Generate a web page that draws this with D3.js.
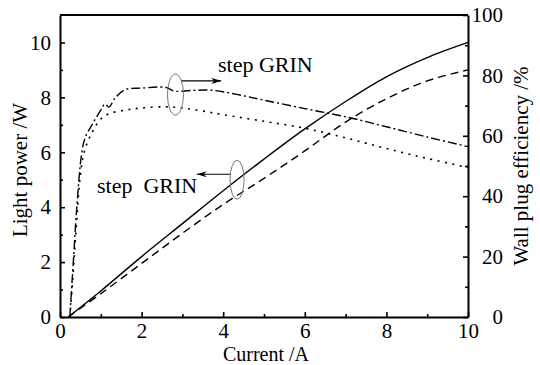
<!DOCTYPE html>
<html><head><meta charset="utf-8">
<script src="https://cdn.jsdelivr.net/npm/d3@7"></script>
<style>
body{margin:0;background:#fff;}
svg{display:block;}
text{font-family:"Liberation Serif","Times New Roman",serif;}
</style></head>
<body><svg id="c" width="540" height="365"></svg>
<script>
// Data
const currentPower = [0.2, 1, 2, 3, 4, 5, 6, 7, 8, 9, 10];
const powerStep = [0, 0.95, 2.2, 3.4, 4.6, 5.75, 6.85, 7.85, 8.75, 9.45, 10.0];
const powerGrin = [0, 0.85, 1.95, 3.05, 4.1, 5.05, 6.05, 7.1, 7.95, 8.6, 9.0];

const currentEffStep = [0.24, 0.33, 0.41, 0.53, 0.62, 0.8, 1.0, 1.1, 1.2, 1.35, 1.6, 2.0, 2.6, 2.8, 3.2, 3.7, 4.3, 5.0, 6.0, 7.0, 8.0, 9.0, 10.0];
const effStep = [0, 19, 36, 54, 59.5, 64, 68.5, 70.5, 69.5, 72.5, 75.3, 75.8, 76, 74.8, 75.0, 75.1, 73.8, 71.8, 69, 66.3, 63, 59.6, 56.4];

const currentEffGrin = [0.24, 0.3, 0.4, 0.5, 0.6, 0.8, 1.0, 1.2, 1.6, 2.0, 2.6, 3.0, 3.5, 4.0, 5.0, 6.0, 7.0, 8.0, 9.0, 10.0];
const effGrin = [0, 10, 30, 47, 55, 61.5, 65.5, 67.3, 68.5, 69.2, 69.6, 69.2, 68.2, 67, 64.8, 62.5, 59.3, 55.8, 52.5, 49.5];

const xTicks = [0, 2, 4, 6, 8, 10];
const yLeftTicks = [0, 2, 4, 6, 8, 10];
const yRightTicks = [0, 20, 40, 60, 80, 100];

const L = 60, R = 468, T = 15, B = 317;
const svg = d3.select("#c");
const x = d3.scaleLinear().domain([0, 10]).range([L, R]);
const yL = d3.scaleLinear().domain([0, 11]).range([B, T]);
const yR = d3.scaleLinear().domain([0, 100]).range([B, T]);

function styleAxis(g){
  g.selectAll(".domain").attr("stroke","#000").attr("stroke-width",2);
  g.selectAll(".tick line").attr("stroke","#000").attr("stroke-width",1.6);
  g.selectAll("text").attr("font-size",21).attr("fill","#000")
    .style("font-family","'Liberation Serif','Times New Roman',serif");
}

// top frame
svg.append("line").attr("x1",L).attr("x2",R).attr("y1",T).attr("y2",T)
  .attr("stroke","#000").attr("stroke-width",2);

// minor ticks
svg.append("g").attr("transform",`translate(0,${B})`)
  .call(d3.axisBottom(x).tickValues([1,3,5,7,9]).tickSize(-3).tickFormat(""))
  .call(g=>{g.select(".domain").remove(); g.selectAll("line").attr("stroke-width",1.6);});
svg.append("g").attr("transform",`translate(${L},0)`)
  .call(d3.axisLeft(yL).tickValues([1,3,5,7,9]).tickSize(-3).tickFormat(""))
  .call(g=>{g.select(".domain").remove(); g.selectAll("line").attr("stroke-width",1.6);});
svg.append("g").attr("transform",`translate(${R},0)`)
  .call(d3.axisRight(yR).tickValues([10,30,50,70,90]).tickSize(-3).tickFormat(""))
  .call(g=>{g.select(".domain").remove(); g.selectAll("line").attr("stroke-width",1.6);});

// major axes
svg.append("g").attr("transform",`translate(0,${B})`)
  .call(d3.axisBottom(x).tickValues(xTicks).tickSize(-5).tickPadding(6.5).tickSizeOuter(0))
  .call(styleAxis);
svg.append("g").attr("transform",`translate(${L},0)`)
  .call(d3.axisLeft(yL).tickValues(yLeftTicks).tickSize(-5).tickPadding(9).tickSizeOuter(0))
  .call(styleAxis);
svg.append("g").attr("transform",`translate(${R},0)`)
  .call(d3.axisRight(yR).tickValues(yRightTicks).tickSize(-5).tickPadding(35).tickSizeOuter(0))
  .call(styleAxis)
  .call(g=>g.selectAll("text").attr("text-anchor","end"));

// curves
const curve = d3.curveCatmullRom.alpha(0.5);
const lineL = d3.line().x(d=>x(d[0])).y(d=>yL(d[1])).curve(curve);
const lineR = d3.line().x(d=>x(d[0])).y(d=>yR(d[1])).curve(curve);
const zip = (a,b)=>a.map((v,i)=>[v,b[i]]);

svg.append("path").attr("d", lineL(zip(currentPower, powerStep)))
  .attr("fill","none").attr("stroke","#000").attr("stroke-width",1.4);
svg.append("path").attr("d", lineL(zip(currentPower, powerGrin)))
  .attr("fill","none").attr("stroke","#000").attr("stroke-width",1.4)
  .attr("stroke-dasharray","8,5");
svg.append("path").attr("d", lineR(zip(currentEffStep, effStep)))
  .attr("fill","none").attr("stroke","#000").attr("stroke-width",1.4)
  .attr("stroke-dasharray","9,3,2,3");
svg.append("path").attr("d", lineR(zip(currentEffGrin, effGrin)))
  .attr("fill","none").attr("stroke","#000").attr("stroke-width",1.6)
  .attr("stroke-dasharray","2,5.5");

// ellipses and arrows
const defs = svg.append("defs");
defs.append("marker").attr("id","ah").attr("viewBox","0 0 10 6").attr("refX",10).attr("refY",3)
  .attr("markerWidth",10).attr("markerHeight",6).attr("markerUnits","userSpaceOnUse").attr("orient","auto")
  .append("path").attr("d","M0,0 L10,3 L0,6 L3,3 Z").attr("fill","#000");

svg.append("ellipse").attr("cx",x(2.83)).attr("cy",yL(8.1)).attr("rx",8).attr("ry",20.5)
  .attr("fill","none").attr("stroke","#777").attr("stroke-width",1);
svg.append("line").attr("x1",x(2.98)).attr("y1",yL(8.6)).attr("x2",x(3.95)).attr("y2",yL(8.6))
  .attr("stroke","#000").attr("stroke-width",1.2).attr("marker-end","url(#ah)");

svg.append("ellipse").attr("cx",x(4.34)).attr("cy",yL(5.0)).attr("rx",7).attr("ry",19.5)
  .attr("fill","none").attr("stroke","#777").attr("stroke-width",1);
svg.append("line").attr("x1",x(4.17)).attr("y1",yL(5.2)).attr("x2",x(3.35)).attr("y2",yL(5.2))
  .attr("stroke","#000").attr("stroke-width",1.2).attr("marker-end","url(#ah)");

svg.append("text").attr("x",218).attr("y",72).attr("font-size",22).text("step GRIN");
svg.append("text").attr("x",97).attr("y",193).attr("font-size",22)
  .attr("xml:space","preserve").style("white-space","pre").text("step  GRIN");

// axis titles
svg.append("text").attr("x",(L+R)/2 + 2).attr("y",360.5).attr("text-anchor","middle")
  .attr("font-size",20).text("Current /A");
svg.append("text").attr("transform",`translate(27,${(T+B)/2 + 4}) rotate(-90)`)
  .attr("text-anchor","middle").attr("font-size",21).text("Light power /W");
svg.append("text").attr("transform",`translate(528,${(T+B)/2}) rotate(-90)`)
  .attr("text-anchor","middle").attr("font-size",21).text("Wall plug efficiency /%");
</script></body></html>
